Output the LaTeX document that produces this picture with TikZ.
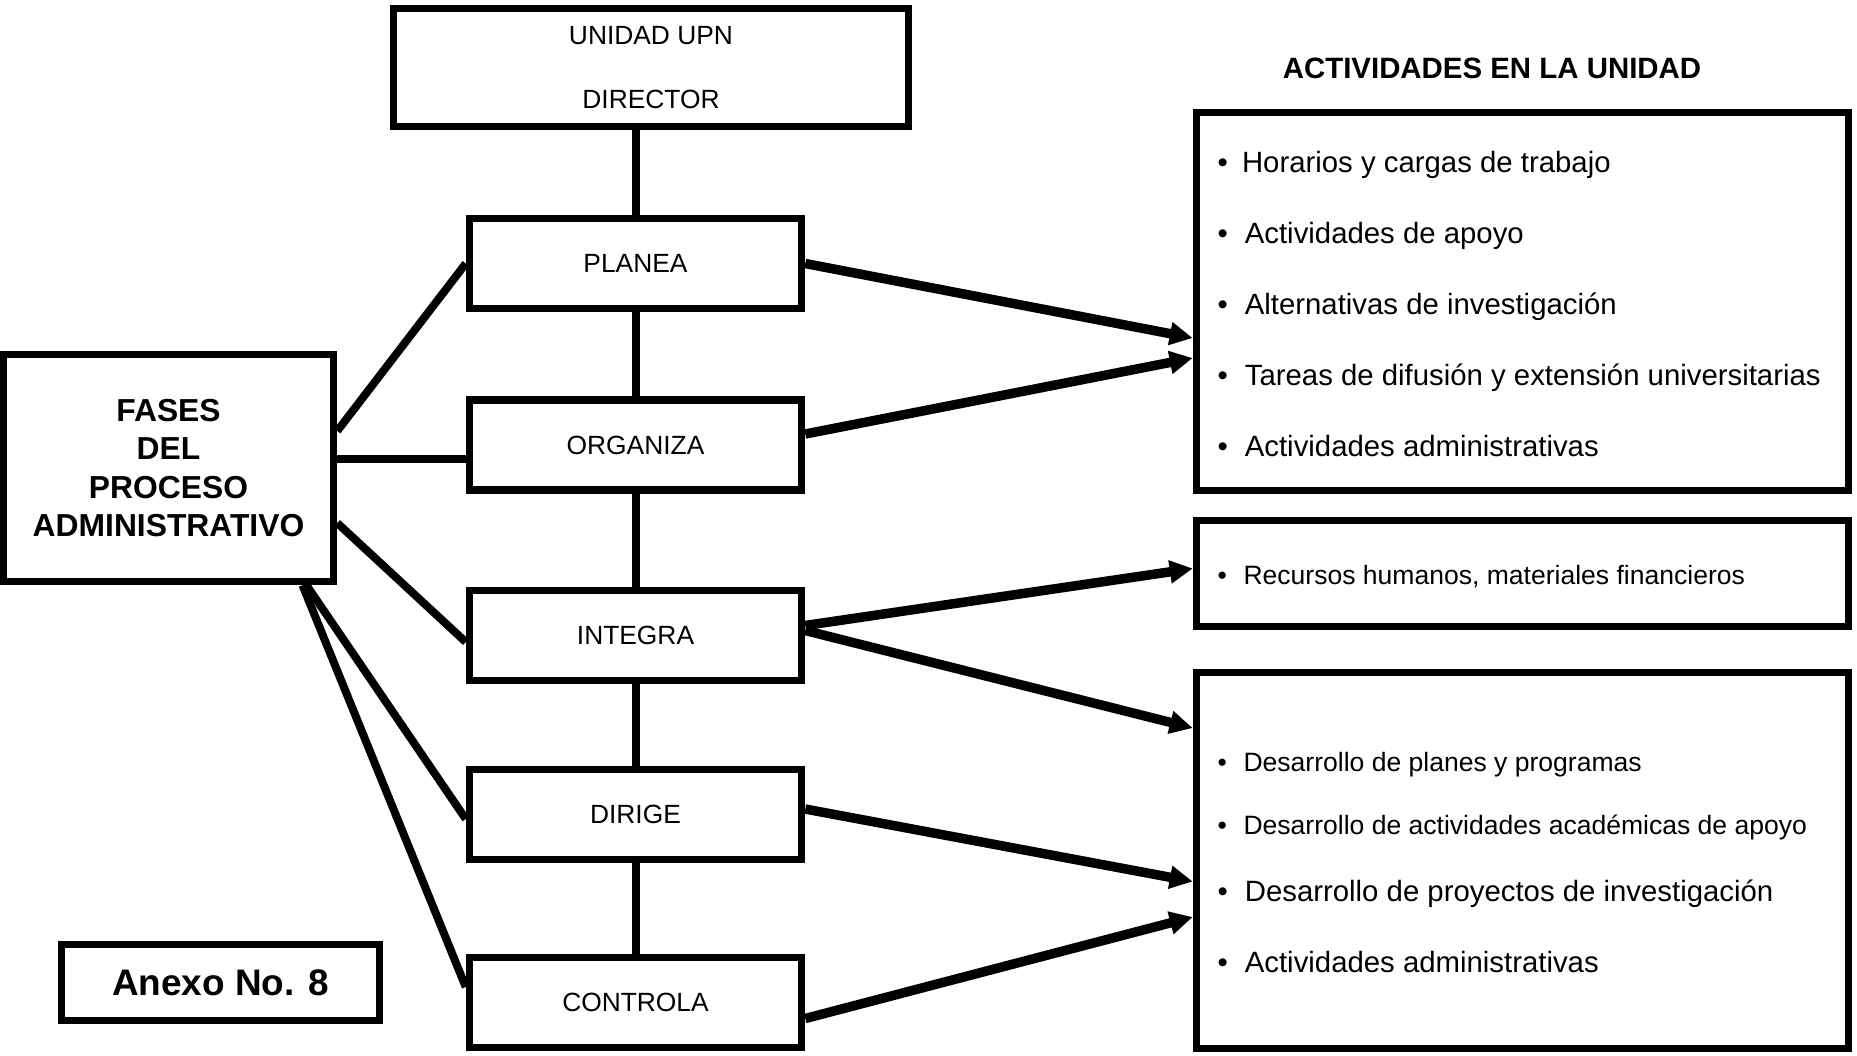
\documentclass[tikz,border=0pt]{standalone}
\usepackage{fontspec}
\setmainfont{Liberation Sans}
\usetikzlibrary{arrows.meta,calc}

\begin{document}
\begin{tikzpicture}[x=0.1mm, y=-0.1mm,
  boxed/.style={draw, line width=0.75mm, inner sep=0pt},
  phase/.style={boxed, minimum width=33.2mm, minimum height=9mm, font=\fontsize{7.5}{9}\selectfont},
  listbox/.style={boxed, minimum width=65.2mm},
  bigitem/.style={anchor=base west, inner sep=0pt, font=\fontsize{8.35}{10}\selectfont},
  smallitem/.style={anchor=base west, inner sep=0pt, font=\fontsize{7.55}{9}\selectfont},
  link/.style={line width=0.8mm},
  flow/.style={line width=0.95mm, -{Triangle[length=2.3mm, width=2.2mm]}}]

\useasboundingbox (0,0) rectangle (1857,1055);

% direccion
\node[boxed, minimum width=51.5mm, minimum height=11.8mm, align=center, font=\fontsize{7.5}{18}\selectfont] (upn) at (651,67.5) {UNIDAD UPN\\DIRECTOR};

% fases
\node[phase] (planea) at (635.5,263.5) {PLANEA};
\node[phase] (organiza) at (635.5,445) {ORGANIZA};
\node[phase] (integra) at (635.5,635.5) {INTEGRA};
\node[phase] (dirige) at (635.5,814.5) {DIRIGE};
\node[phase] (controla) at (635.5,1002.5) {CONTROLA};

\node[boxed, minimum width=33mm, minimum height=22.7mm, align=center, font=\bfseries\fontsize{9.05}{10.9}\selectfont] (fases) at (168.5,468) {FASES\\DEL\\PROCESO\\ADMINISTRATIVO};

\node[boxed, minimum width=31.8mm, minimum height=7.6mm, font=\bfseries\fontsize{10.5}{12}\selectfont] (anexo) at (220.5,982.5) {Anexo No. 8};

% actividades
\node[anchor=base, inner sep=0pt, font=\bfseries\fontsize{8.37}{10}\selectfont] (titulo) at (1492,78) {ACTIVIDADES EN LA UNIDAD};

\node[listbox, minimum height=37.8mm] (act) at (1522.5,301.5) {};
\node[listbox, minimum height=10.6mm] (rec) at (1522.5,573.5) {};
\node[listbox, minimum height=37.6mm] (des) at (1522.5,860.5) {};

\node[bigitem] (act1) at (1217,172) {\textbullet\hspace{4pt}Horarios y cargas de trabajo};
\node[bigitem] (act2) at (1217,243) {\textbullet\hspace{4.8pt}Actividades de apoyo};
\node[bigitem] (act3) at (1217,314) {\textbullet\hspace{4.8pt}Alternativas de investigación};
\node[bigitem] (act4) at (1217,385) {\textbullet\hspace{4.8pt}Tareas de difusión y extensión universitarias};
\node[bigitem] (act5) at (1217,456) {\textbullet\hspace{4.8pt}Actividades administrativas};

\node[smallitem] (rec1) at (1217,584) {\textbullet\hspace{4.7pt}Recursos humanos, materiales financieros};

\node[smallitem] (des1) at (1217,771) {\textbullet\hspace{4.7pt}Desarrollo de planes y programas};
\node[smallitem] (des2) at (1217,834) {\textbullet\hspace{4.7pt}Desarrollo de actividades académicas de apoyo};
\node[bigitem] (des3) at (1217,901) {\textbullet\hspace{4.8pt}Desarrollo de proyectos de investigación};
\node[bigitem] (des4) at (1217,972) {\textbullet\hspace{4.8pt}Actividades administrativas};

% lineas
\draw[link] (planea.north |- upn.south) -- (planea.north);
\draw[link] (planea) -- (organiza);
\draw[link] (organiza) -- (integra);
\draw[link] (integra) -- (dirige);
\draw[link] (dirige) -- (controla);

\draw[link] ($(fases.east)+(0,-37)$) -- (planea.west);
\draw[link] ($(fases.east)+(0,-9)$) -- ($(organiza.west)+(0,14)$);
\draw[link] ($(fases.east)+(0,55)$) -- ($(integra.west)+(0,6.5)$);
\draw[link] ($(fases.south)+(138,0)$) -- ($(dirige.west)+(0,4.5)$);
\draw[link] ($(fases.south)+(134,0)$) -- ($(controla.west)+(0,-15.5)$);

% flechas
\draw[flow] (planea.east) -- ($(act.west)+(0,36.5)$);
\draw[flow] ($(organiza.east)+(0,-11)$) -- ($(act.west)+(0,56.5)$);
\draw[flow] ($(integra.east)+(0,-10)$) -- ($(rec.west)+(0,-5)$);
\draw[flow] ($(integra.east)+(0,-5)$) -- ($(des.west)+(0,-132.5)$);
\draw[flow] ($(dirige.east)+(0,-5.5)$) -- ($(des.west)+(0,21)$);
\draw[flow] ($(controla.east)+(0,16)$) -- ($(des.west)+(0,56.5)$);

\end{tikzpicture}
\end{document}
